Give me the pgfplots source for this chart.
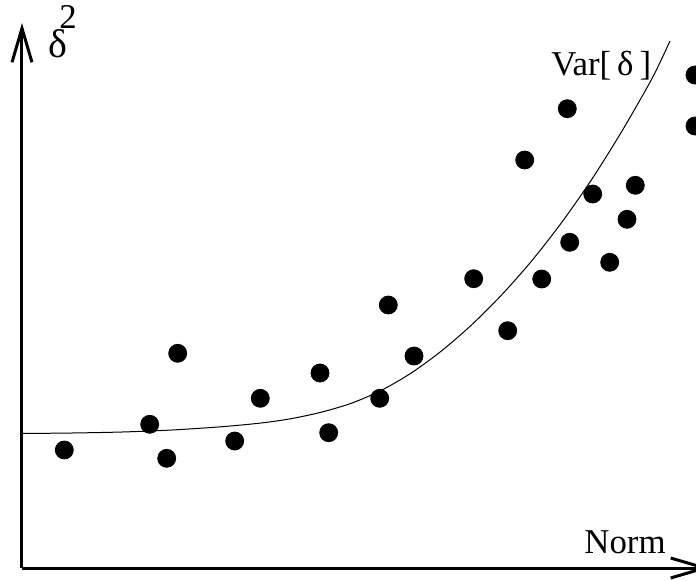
\documentclass[border=0pt]{standalone}
\usepackage{fontspec}
\setmainfont{Liberation Serif}
\usepackage{pgfplots}
\pgfplotsset{compat=1.18}
\usetikzlibrary{arrows.meta}
\begin{document}
\begin{tikzpicture}[every node/.style={font=\fontsize{17.4}{21}\selectfont}]
\begin{axis}[
 x=0.5pt, y=0.5pt,
 xmin=0, xmax=688, ymin=0, ymax=545,
 axis lines=left,
 axis line style={line width=1.5pt, -{Straight Barb[length=17pt,width=10pt,line width=1.5pt]}},
 ticks=none,
 clip=false,
]
\addplot[black, line width=0.5pt, smooth, no marks] coordinates {
 (0,134.5) (50,135.0) (100,136.0) (150,138.0) (200,141.3) (240,145.1) (270,149.5)
 (300,156.0) (330,165.0) (360,178.0) (390,195.5) (420,217.5) (450,243.5)
 (480,273.5) (510,307.5) (540,346.0) (570,389.0) (600,437.0) (630,489.5) (648,527)
};
\addplot[only marks, mark=*, mark size=4.5pt, black] coordinates {
 (42.3,118) (127.7,143.7) (144.7,109.7) (155.7,214.7) (212.7,127) (238.3,169.7)
 (298,195) (306.7,135.3) (357.7,169.7) (366.3,263) (392,212) (451.7,289.3)
 (485.7,237.3) (502.7,408) (519.7,289) (545.3,459.3) (547.7,325.7) (570.7,374)
 (587.7,305.7) (605,348.7) (613.3,382.7) (673,493) (673,442)
};
\node[anchor=base west, inner sep=0, font=\fontsize{20}{24}\selectfont] at (axis cs:26,510) {δ};
\node[anchor=base west, inner sep=0] at (axis cs:37,539) {2};
\node[anchor=base west, inner sep=0] at (axis cs:529,493) {Var[\hspace{0.17em}δ\hspace{0.17em}]};
\node[anchor=base west, inner sep=0] at (axis cs:562,15) {Norm};
\coordinate (bbl) at (axis cs:-22,-12);
\coordinate (btr) at (axis cs:674,568);
\end{axis}
\pgfresetboundingbox
\path (bbl) rectangle (btr);
\end{tikzpicture}
\end{document}
